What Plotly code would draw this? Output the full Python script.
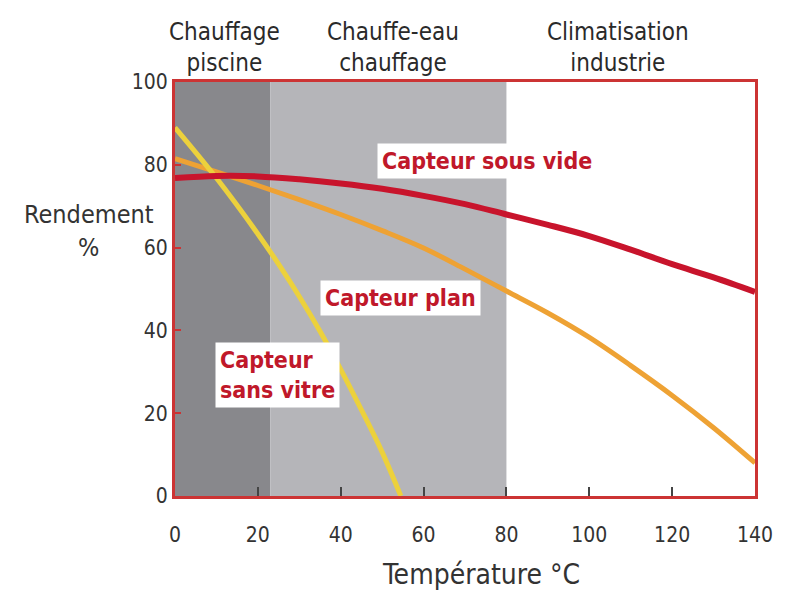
import plotly.graph_objects as go

# Data
temp = [0, 10, 20, 30, 40, 50, 60, 70, 80, 90, 100, 110, 120, 130, 140]
sous_vide = [76.8, 77.3, 77.2, 76.5, 75.5, 74.2, 72.5, 70.5, 68.0, 65.5, 62.8, 59.5, 56.0, 52.8, 49.3]
plan = [81.5, 78.3, 75.0, 71.6, 68.0, 64.1, 59.9, 54.8, 49.5, 44.2, 38.3, 31.5, 24.3, 16.5, 8.0]
temp_sv = [0, 10, 20, 25, 30, 35, 40, 45, 50, 54.5]
sans_vitre = [89.0, 76.8, 63.3, 56.0, 48.2, 39.8, 30.6, 20.8, 10.6, 0.0]

zones = [(0, 23, "#88888c"), (23, 80, "#b5b5b9")]
zone_labels = ["Chauffage<br>piscine", "Chauffe-eau<br>chauffage", "Climatisation<br>industrie"]
zone_label_x = [12, 52.6, 107]

x_ticks = [0, 20, 40, 60, 80, 100, 120, 140]
y_ticks = [0, 20, 40, 60, 80, 100]

FONT = "DejaVu Sans Condensed, DejaVu Sans, sans-serif"
RED_TXT = "#c0182a"
TXT = "#333333"

fig = go.Figure()

for x0, x1, col in zones:
    fig.add_shape(type="rect", xref="x", yref="y", x0=x0, x1=x1, y0=0, y1=100,
                  fillcolor=col, line=dict(width=0), layer="below")

fig.add_trace(go.Scatter(x=temp, y=plan, mode="lines", line=dict(color="#eea234", width=5, shape="spline"),
                         showlegend=False, hoverinfo="skip"))
fig.add_trace(go.Scatter(x=temp_sv, y=sans_vitre, mode="lines", line=dict(color="#ecd13c", width=5, shape="spline"),
                         showlegend=False, hoverinfo="skip"))
fig.add_trace(go.Scatter(x=temp, y=sous_vide, mode="lines", line=dict(color="#c8142c", width=6, shape="spline"),
                         showlegend=False, hoverinfo="skip"))

for lbl, xc in zip(zone_labels, zone_label_x):
    fig.add_annotation(x=xc, xref="x", y=1.0, yref="paper", yanchor="bottom", yshift=3, text=lbl,
                       showarrow=False, font=dict(family=FONT, size=24, color="#2a2a2a"))

curve_labels = [
    ("Capteur sous vide", 75.2, 81.0, "center"),
    ("Capteur plan", 54.5, 47.8, "center"),
    ("Capteur<br>sans vitre", 24.8, 29.2, "left"),
]
for txt, xx, yy, al in curve_labels:
    fig.add_annotation(x=xx, y=yy, text="<b>" + txt + "</b>", showarrow=False, align=al,
                       bgcolor="white", borderpad=4,
                       font=dict(family=FONT, size=23, color=RED_TXT))

fig.add_annotation(x=-0.148, xref="paper", xanchor="center", y=0.64, yref="paper", yanchor="middle",
                   text="Rendement<br>%", showarrow=False,
                   font=dict(family=FONT, size=25, color=TXT))
fig.add_annotation(x=0.528, xref="paper", xanchor="center", y=-0.19, yref="paper", yanchor="middle",
                   text="Température °C", showarrow=False,
                   font=dict(family=FONT, size=28, color=TXT))

fig.update_xaxes(range=[0, 140], tickvals=x_ticks, showgrid=False, zeroline=False,
                 showline=True, linecolor="#cc3434", linewidth=3, mirror=True,
                 ticks="inside", ticklen=9, tickwidth=2, tickcolor="#444444",
                 ticklabelstandoff=18,
                 tickfont=dict(family=FONT, size=21, color=TXT))
fig.update_yaxes(range=[0, 100], tickvals=y_ticks, showgrid=False, zeroline=False,
                 showline=True, linecolor="#cc3434", linewidth=3, mirror=True,
                 ticks="inside", ticklen=6, tickwidth=2, tickcolor="#cc3333",
                 tickfont=dict(family=FONT, size=21, color=TXT))

fig.update_layout(width=791, height=582, margin=dict(l=167, r=44, t=74, b=94),
                  plot_bgcolor="white", paper_bgcolor="white")

fig.write_html("out.html")
